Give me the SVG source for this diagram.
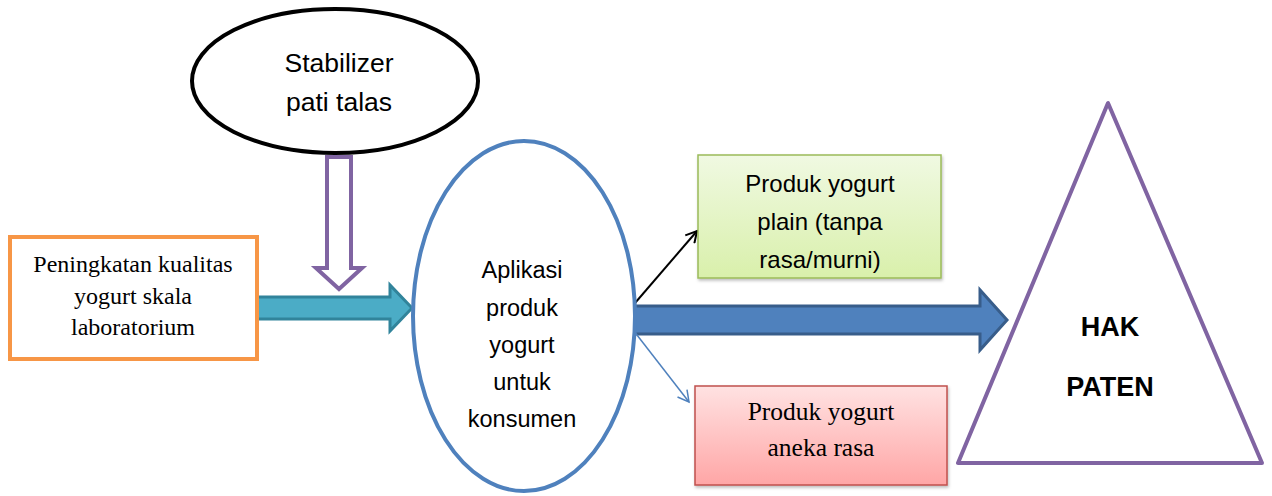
<svg xmlns="http://www.w3.org/2000/svg" width="1272" height="496" viewBox="0 0 1272 496">
<style>
.sans{font-family:"Liberation Sans",Arial,sans-serif;fill:#000}
.serif{font-family:"Liberation Serif","Times New Roman",serif;fill:#000}
</style>
<defs>
<linearGradient id="gGreen" x1="0" y1="0" x2="0" y2="1"><stop offset="0" stop-color="#f0f9e2"/><stop offset="1" stop-color="#d9f0ab"/></linearGradient>
<linearGradient id="gRed" x1="0" y1="0" x2="0" y2="1"><stop offset="0" stop-color="#ffe2e2"/><stop offset="1" stop-color="#ffa6a6"/></linearGradient>
<marker id="mBlack" viewBox="0 0 14 14" refX="12" refY="7" markerWidth="14" markerHeight="14" markerUnits="userSpaceOnUse" orient="auto"><path d="M1,1 L12,7 L1,13" fill="none" stroke="#000" stroke-width="2"/></marker>
<marker id="mBlue" viewBox="0 0 14 14" refX="12" refY="7" markerWidth="14" markerHeight="14" markerUnits="userSpaceOnUse" orient="auto"><path d="M1,1 L12,7 L1,13" fill="none" stroke="#4f81bd" stroke-width="1.5"/></marker>
<filter id="sh" x="-5%" y="-5%" width="115%" height="120%"><feDropShadow dx="1" dy="2" stdDeviation="1.5" flood-color="#000" flood-opacity="0.25"/></filter>
</defs>

<g id="connectors">
<path id="purpleArrow" d="M327,157 L351,157 L351,268 L362,268 L339,289 L316,268 L327,268 Z" fill="#fff" stroke="#8064a2" stroke-width="4" stroke-linejoin="miter"/>
<path id="tealArrow" d="M257,297 L390,297 L390,285 L412,308 L390,331 L390,319 L257,319 Z" fill="#4bacc6" stroke="#31849b" stroke-width="3"/>
<path id="bigBlueArrow" d="M634,306 L980,306 L980,290 L1007,320 L980,350 L980,334 L634,334 Z" fill="#4f81bd" stroke="#385d8a" stroke-width="3"/>
<line x1="623" y1="317" x2="697" y2="231" stroke="#000" stroke-width="2" marker-end="url(#mBlack)"/>
<line x1="623" y1="317" x2="689" y2="402" stroke="#4f81bd" stroke-width="1.5" marker-end="url(#mBlue)"/>
</g>

<g id="stabilizer">
<ellipse cx="335" cy="81" rx="143" ry="72" fill="#fff" stroke="#000" stroke-width="4"/>
<text class="sans" font-size="26.5" text-anchor="middle" x="339" y="72">Stabilizer</text>
<text class="sans" font-size="26.5" text-anchor="middle" x="339" y="111">pati talas</text>
</g>

<g id="peningkatan">
<rect x="10" y="237" width="247" height="122" fill="#fff" stroke="#f79646" stroke-width="4"/>
<text class="serif" font-size="24" text-anchor="middle" x="133" y="272">Peningkatan kualitas</text>
<text class="serif" font-size="24" text-anchor="middle" x="133" y="304">yogurt skala</text>
<text class="serif" font-size="24" text-anchor="middle" x="133" y="335">laboratorium</text>
</g>

<g id="aplikasi">
<ellipse cx="524" cy="316" rx="111" ry="175" fill="#fff" stroke="#4f81bd" stroke-width="4"/>
<text class="sans" font-size="23.5" text-anchor="middle" x="522" y="278">Aplikasi</text>
<text class="sans" font-size="23.5" text-anchor="middle" x="522" y="316">produk</text>
<text class="sans" font-size="23.5" text-anchor="middle" x="522" y="353">yogurt</text>
<text class="sans" font-size="23.5" text-anchor="middle" x="522" y="390">untuk</text>
<text class="sans" font-size="23.5" text-anchor="middle" x="522" y="427">konsumen</text>
</g>

<g id="plain">
<rect x="698" y="155" width="243" height="123" fill="url(#gGreen)" stroke="#9bbb59" stroke-width="1.5" filter="url(#sh)"/>
<text class="sans" font-size="24" text-anchor="middle" x="820" y="192">Produk yogurt</text>
<text class="sans" font-size="24" text-anchor="middle" x="820" y="230">plain (tanpa</text>
<text class="sans" font-size="24" text-anchor="middle" x="820" y="268">rasa/murni)</text>
</g>

<g id="anekaRasa">
<rect x="695" y="386" width="252" height="99" fill="url(#gRed)" stroke="#c0504d" stroke-width="1.5" filter="url(#sh)"/>
<text class="serif" font-size="25.5" text-anchor="middle" x="821" y="420">Produk yogurt</text>
<text class="serif" font-size="25.5" text-anchor="middle" x="821" y="456">aneka rasa</text>
</g>

<g id="hakPaten">
<polygon points="1108,103 958,463 1262,463" fill="#fff" stroke="#8064a2" stroke-width="4" stroke-linejoin="round"/>
<text class="sans" font-size="27" font-weight="bold" text-anchor="middle" x="1110" y="336">HAK</text>
<text class="sans" font-size="27" font-weight="bold" text-anchor="middle" x="1110" y="396">PATEN</text>
</g>
</svg>
